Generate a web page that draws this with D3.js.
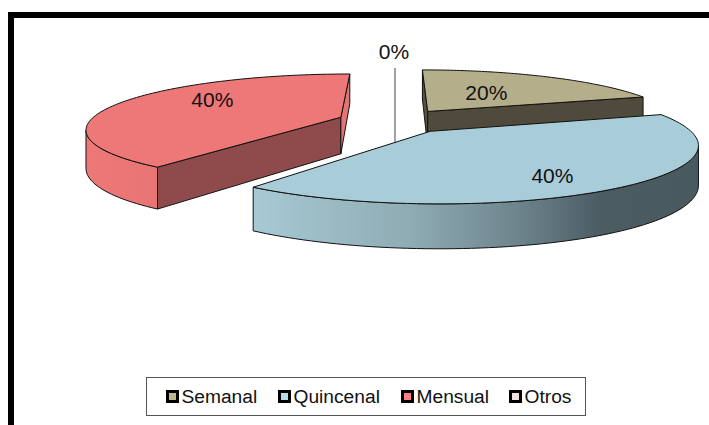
<!DOCTYPE html>
<html><head><meta charset="utf-8">
<style>html,body{margin:0;padding:0;background:#fff}svg{display:block}text{font-family:"Liberation Sans",Arial,sans-serif;fill:#111}</style>
<script src="https://cdn.jsdelivr.net/npm/d3@7"></script></head><body>
<script>
const categories = ["Semanal","Quincenal","Mensual","Otros"];
const values = [20,40,40,0];
const labels = ["20%","40%","40%","0%"];
const topColors = ["#B4AE8B","#A9CDD8","#EE7878","#F0E0E0"];
const legendColors = ["#BDB78F","#B5DCE8","#FF8080","#F2E0E0"];
const startWall = ["#57523F","#7f9aa2","#8F4A4C","#888"];
const endWall = ["#4F4A3B","#7f9aa2","#E27474","#888"];

const W=709,H=425;
const svg=d3.select("body").append("svg").attr("width",W).attr("height",H);
const defs=svg.append("defs");
const grad=(id,x1,x2,stops)=>{const g=defs.append("linearGradient").attr("id",id).attr("gradientUnits","userSpaceOnUse").attr("x1",x1).attr("x2",x2).attr("y1",0).attr("y2",0);
  stops.forEach(s=>g.append("stop").attr("offset",s[0]).attr("stop-color",s[1]));};
grad("g0",420,642,[[0,"#57523F"],[1,"#4F4A3B"]]);
grad("g1",257,698,[[0,"#A6C9D3"],[.35,"#8FABB4"],[.6,"#6C838B"],[.78,"#4B5C63"],[1,"#485960"]]);
grad("g2",85,157,[[0,"#EE7878"],[1,"#E87474"]]);

// frame
svg.append("path").attr("d",`M11,${H}V15H${W}`).attr("fill","none").attr("stroke","#000").attr("stroke-width",6);

// projection of the pie plane
const cx=395,cy=121,R=251,B=53.3,P=0.2,explode=0.23,depth0=37;
const project=(X,Y)=>{const s=1/(1-P*Y);return [cx+X*R*s,cy+Y*B*s];};
const dropAt=Y=>depth0*(1+0.18*Y);

const arcs=d3.pie().sort(null).value(d=>d)(values);
const angle=d3.scaleLinear().domain([0,1]);

const slices=arcs.map((a,i)=>{
  const mid=(a.startAngle+a.endAngle)/2;
  const ox=explode*Math.sin(mid),oy=-explode*Math.cos(mid);
  const rim=d3.range(0,1.0001,1/90).map(t=>{const th=angle.range([a.startAngle,a.endAngle])(t);return [ox+Math.sin(th),oy-Math.cos(th)];});
  return {i,a,mid,ox,oy,rim};
});

const pathLine=d3.line();
const upper=p=>project(p[0],p[1]);
const lower=p=>{const q=project(p[0],p[1]);return [q[0],q[1]+dropAt(p[1])];};

function drawSlice(sl){
  const {i,ox,oy,rim,mid}=sl;
  const g=svg.append("g");
  const apex=[ox,oy];
  const inner=[ox+0.5*Math.sin(mid),oy-0.5*Math.cos(mid)];
  // outer wall: only the stretch of rim that faces the viewer (screen x falling as the angle grows)
  const front=rim.filter((p,k)=>{
    const a=upper(rim[Math.max(k-1,0)]),b=upper(rim[Math.min(k+1,rim.length-1)]);
    return b[0]<a[0];
  });
  if(front.length>1){
    g.append("path").attr("d",pathLine(front.map(upper).concat(front.slice().reverse().map(lower)))+"Z")
      .attr("fill",`url(#g${i})`).attr("stroke","#111").attr("stroke-width",1);
  }
  // radial walls, only if facing the viewer
  [[rim[0],startWall[i]],[rim[rim.length-1],endWall[i]]].forEach(([p,c])=>{
    const A=upper(apex),E=upper(p),M=upper(inner);
    const ex=E[0]-A[0],ey=E[1]-A[1];
    const sDown=ex, sIn=ex*(M[1]-A[1])-ey*(M[0]-A[0]);
    if(sDown*sIn<0){
      g.append("path").attr("d",pathLine([upper(apex),upper(p),lower(p),lower(apex)])+"Z").attr("fill",c).attr("stroke","#111").attr("stroke-width",1);
    }
  });
  // top face
  g.append("path").attr("d",pathLine([upper(apex)].concat(rim.map(upper)))+"Z").attr("fill",topColors[i]).attr("stroke","#111").attr("stroke-width",1);
}

// leader for the empty slice, drawn behind the pie
svg.append("line").attr("x1",cx).attr("x2",cx).attr("y1",68).attr("y2",150).attr("stroke","#444").attr("stroke-width",1);
[2,0,1].forEach(i=>drawSlice(slices[i]));

// value labels
const labelLayout=[{t:.45,dx:1,dy:-2},{t:.6,dx:16,dy:14},{t:.55,dx:-5,dy:-9}];
slices.slice(0,3).forEach(sl=>{
  const L=labelLayout[sl.i];
  const p=project(sl.ox+L.t*Math.sin(sl.mid),sl.oy-L.t*Math.cos(sl.mid));
  svg.append("text").attr("x",p[0]+L.dx).attr("y",p[1]+7+L.dy).attr("text-anchor","middle").attr("font-size",21).text(labels[sl.i]);
});
svg.append("text").attr("x",cx-1).attr("y",59).attr("text-anchor","middle").attr("font-size",21).text(labels[3]);

// legend
const lg=svg.append("g");
lg.append("rect").attr("x",146.5).attr("y",377.5).attr("width",439).attr("height",38).attr("fill","#fff").attr("stroke","#555").attr("stroke-width",1);
const swX=d3.scaleOrdinal().domain(categories).range([166,278,401,509]);
categories.forEach((c,i)=>{
  lg.append("rect").attr("x",swX(c)+1.5).attr("y",391.5).attr("width",10).attr("height",10).attr("fill",legendColors[i]).attr("stroke","#000").attr("stroke-width",3);
  lg.append("text").attr("x",swX(c)+15.5).attr("y",403).attr("font-size",19.2).text(c);
});
</script></body></html>
